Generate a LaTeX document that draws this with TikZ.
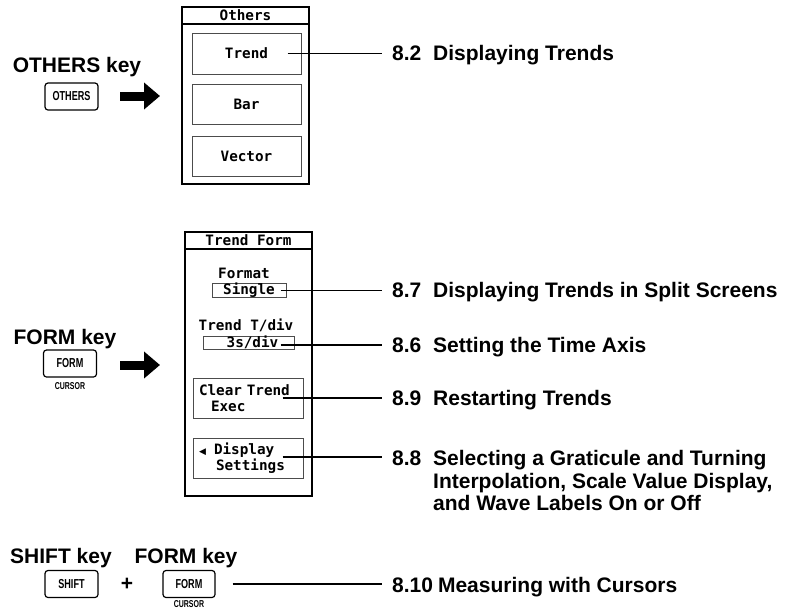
\documentclass[tikz,border=0pt]{standalone}
\usepackage{fontspec}
\setmainfont{Liberation Sans}
\newfontfamily\menufont{DejaVu Sans Mono}
\newfontfamily\keyfont[FakeStretch=0.7]{Liberation Sans}
\newfontfamily\symfont{DejaVu Sans}
\usepackage{tikz}
\usetikzlibrary{arrows.meta, positioning, calc}

\tikzset{
  menubox/.style={draw, line width=1.2pt, minimum width=127pt, inner sep=0pt},
  menutitle/.style={draw, line width=1.2pt, minimum width=127pt, minimum height=17pt, inner sep=0pt, font=\menufont\bfseries\fontsize{14.3}{15}\selectfont},
  softkey/.style={draw=black!70, line width=1pt, minimum width=110pt, minimum height=40pt, inner sep=0pt, align=center, font=\menufont\bfseries\fontsize{14.3}{16}\selectfont},
  valbox/.style={draw=black!70, line width=1pt, minimum height=13pt, inner sep=0pt, font=\menufont\bfseries\fontsize{14.3}{15}\selectfont},
  menutext/.style={inner sep=0pt, font=\menufont\bfseries\fontsize{14.3}{15}\selectfont},
  panelkey/.style={draw, line width=1.2pt, rounded corners=3pt, minimum width=53pt, minimum height=27pt, inner sep=0pt, font=\keyfont\bfseries\fontsize{13}{14}\selectfont},
  keylabel/.style={inner sep=0pt, font=\bfseries\fontsize{21}{24}\selectfont},
  sublabel/.style={inner sep=0pt, font=\keyfont\bfseries\fontsize{10}{11}\selectfont},
  seclabel/.style={anchor=base west, inner xsep=10pt, inner ysep=0pt, align=left, font=\bfseries\fontsize{21}{22.5}\selectfont},
  link/.style={line width=1.3pt},
  bigarrow/.style={line width=9pt, -{Triangle[length=16pt,width=26pt]}},
}
\newcommand{\secno}[1]{\makebox[41pt][l]{#1}}

\begin{document}
\begin{tikzpicture}[x=1pt, y=-1pt]
  \useasboundingbox (0,0) rectangle (788,611);

  % OTHERS menu
  \node[keylabel] (otherslbl) at (77,67) {OTHERS key};
  \node[panelkey] (otherskey) at (71.5,96.5) {OTHERS};
  \coordinate (othersfrom) at (120,96);
  \coordinate (othersto) at (160,96);
  \draw[bigarrow] (othersfrom) -- (othersto);

  \node[menubox, minimum height=177pt] (othersmenu) at (245.5,95.5) {};
  \node[menutitle, anchor=north] (otherstitle) at (othersmenu.north) {Others};
  \node[softkey, minimum width=109pt, minimum height=41pt] (trend) at (246.5,53.5) {Trend};
  \node[softkey, minimum width=109pt] (bar) at (246.5,104) {Bar};
  \node[softkey, minimum width=109pt] (vector) at (246.5,156) {Vector};

  \node[seclabel] (sec82) at (382,60.5) {\secno{8.2}Displaying Trends};
  \draw[link] ([xshift=-14pt]trend.east) -- (trend.east -| sec82.west);

  % FORM menu
  \node[keylabel] (formlbl) at (65,339) {FORM key};
  \node[panelkey] (formkey) at (70,363.5) {FORM};
  \node[sublabel] (formsub) at (70,386) {CURSOR};
  \coordinate (formfrom) at (120,365);
  \coordinate (formto) at (160,365);
  \draw[bigarrow] (formfrom) -- (formto);

  \node[menubox, minimum height=264pt] (trendmenu) at (248.5,364) {};
  \node[menutitle, anchor=north] (trendtitle) at (trendmenu.north) {Trend Form};
  \node[menutext] (formattxt) at (244,273) {Format};
  \node[valbox, minimum width=74pt] (single) at (249,290.5) {Single};
  \node[menutext] (tdivtxt) at (246,325) {Trend T/div};
  \node[valbox, minimum width=91pt] (tdiv) at (248.5,342.5) {\hspace*{8pt}3s/div};
  \node[softkey, text width=98pt, align=left] (clear) at (248,398) {Clear Trend\\\hspace*{12pt}Exec};
  \node[softkey, text width=98pt, align=left] (display) at (248,458)
    {\makebox[15pt][l]{\symfont\fontsize{9}{10}\selectfont ◀}Display\\\hspace*{17pt}Settings};

  \node[seclabel] (sec87) at (382,297.5) {\secno{8.7}Displaying Trends in Split Screens};
  \node[seclabel] (sec86) at (382,352.5) {\secno{8.6}Setting the Time Axis};
  \node[seclabel] (sec89) at (382,405.5) {\secno{8.9}Restarting Trends};
  \node[seclabel] (sec88) at (382,465.5) {\begin{tabular}[t]{@{}p{41pt}@{}l@{}}
      8.8 & Selecting a Graticule and Turning\\
          & Interpolation, Scale Value Display,\\
          & and Wave Labels On or Off
    \end{tabular}};
  \draw[link] ([xshift=-6pt]single.east) -- (single.east -| sec87.west);
  \draw[link] ([xshift=-14pt, yshift=-2.5pt]tdiv.east) -- ([yshift=-2.5pt]tdiv.east -| sec86.west);
  \draw[link] ([xshift=-21pt]clear.east) -- (clear.east -| sec89.west);
  \draw[link] ([xshift=-21pt, yshift=1pt]display.east) -- ([yshift=1pt]display.east -| sec88.west);

  % SHIFT + FORM
  \node[keylabel] (shiftlbl) at (61,558) {SHIFT key};
  \node[keylabel] (form2lbl) at (186,558) {FORM key};
  \node[panelkey] (shiftkey) at (71.5,584) {SHIFT};
  \node[keylabel] (plus) at (127,584) {+};
  \node[panelkey, minimum width=52pt] (form2key) at (189,584) {FORM};
  \node[sublabel] (form2sub) at (189,604) {CURSOR};
  \node[seclabel] (sec810) at (382,592) {8.10\hspace{5pt}Measuring with Cursors};
  \draw[link] ([xshift=17pt]form2key.east) -- (form2key.east -| sec810.west);
\end{tikzpicture}
\end{document}
